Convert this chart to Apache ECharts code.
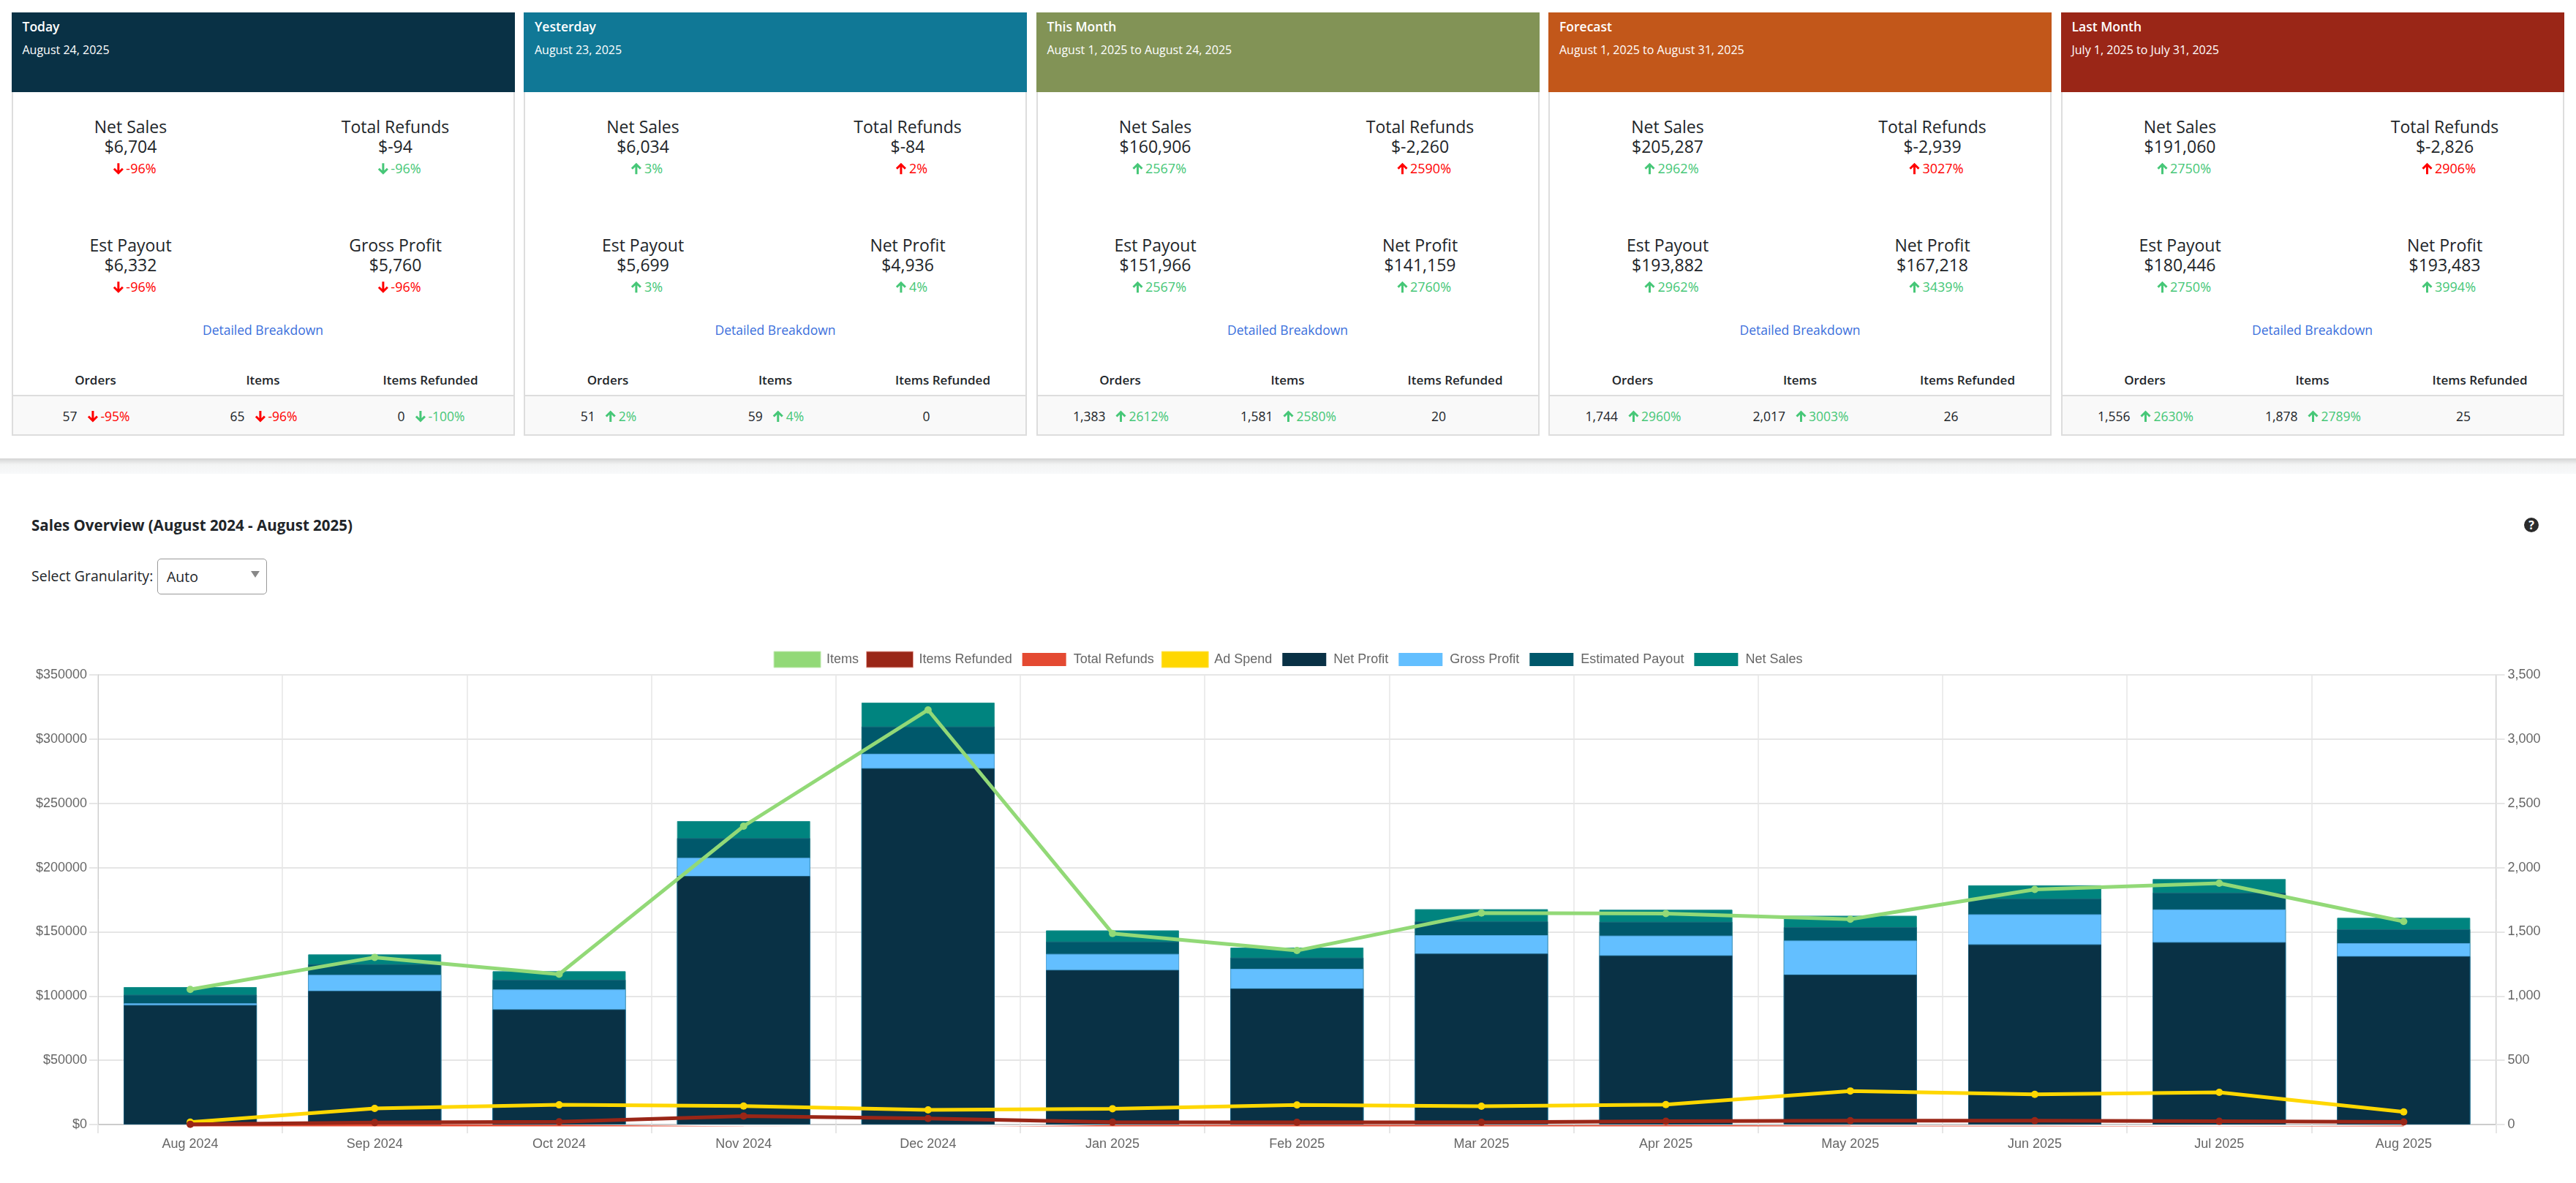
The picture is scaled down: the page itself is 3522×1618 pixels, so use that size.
<!DOCTYPE html>
<html>
<head>
<meta charset="utf-8">
<title>Sales Overview</title>
<script src="https://cdn.jsdelivr.net/npm/echarts@6/dist/echarts.min.js"></script>
<style>
html, body { margin: 0; padding: 0; background: #fff; }
body { width: 3522px; height: 1618px; position: relative; overflow: hidden; font-family: "Open Sans", "Noto Sans", sans-serif; color: #212529; }
.card { position: absolute; top: 17px; width: 688px; height: 579px; box-sizing: border-box; border: 2px solid #ddd; border-top: 0; }
.head { position: absolute; left: -2px; top: 0; width: 688px; height: 109px; color: #fff; }
.foot { position: absolute; left: -2px; right: -2px; top: 523px; bottom: -2px; background: #f9f9f9; border: 2px solid #ddd; box-sizing: border-box; }
.t { position: absolute; white-space: nowrap; transform: translate(-50%, -50%); }
.l { position: absolute; white-space: nowrap; transform: translateY(-50%); }
.strip { position: absolute; left: 0; top: 627px; width: 3522px; height: 21px; background: linear-gradient(#d4d4d4, #f3f4f4 40%, #f8f9fa); }
.sel { position: absolute; left: 215px; top: 764px; width: 150px; height: 49px; box-sizing: border-box; border: 1px solid #999; border-radius: 5px; }
.tri { position: absolute; left: 343px; top: 781px; width: 0; height: 0; border-left: 6px solid transparent; border-right: 6px solid transparent; border-top: 9px solid #888; }
.help { position: absolute; left: 3451px; top: 708px; width: 20px; height: 20px; border-radius: 10px; background: #2b2b2b; color: #fff; font: bold 16px/20px "Open Sans", sans-serif; text-align: center; }
.pct { display: inline-flex; align-items: center; }
svg { display: block; margin-right: 3px; }
#chart { position: absolute; left: 0; top: 850px; width: 3522px; height: 768px; }
</style>
</head>
<body>
<div id="cards"></div>
<div class="strip"></div>
<div class="l" style="left:43px;top:718px;font-size:20.5px;font-weight:700">Sales Overview (August 2024 - August 2025)</div>
<div class="l" style="left:43px;top:787px;font-size:19.5px">Select Granularity:</div>
<div class="sel"></div>
<div class="l" style="left:228px;top:788px;font-size:19.5px">Auto</div>
<div class="tri"></div>
<div class="help">?</div>
<div id="chart"></div>
<script>
// cards
var cardTitles = ['Today', 'Yesterday', 'This Month', 'Forecast', 'Last Month'];
var cardDates = ['August 24, 2025', 'August 23, 2025', 'August 1, 2025 to August 24, 2025', 'August 1, 2025 to August 31, 2025', 'July 1, 2025 to July 31, 2025'];
var headerColors = ['#093145', '#107896', '#829356', '#C2571A', '#9A2617'];
var netSalesText = ['$6,704', '$6,034', '$160,906', '$205,287', '$191,060'];
var netSalesPct = [-96, 3, 2567, 2962, 2750];
var refundsText = ['$-94', '$-84', '$-2,260', '$-2,939', '$-2,826'];
var refundsPct = [-96, 2, 2590, 3027, 2906];
var payoutText = ['$6,332', '$5,699', '$151,966', '$193,882', '$180,446'];
var payoutPct = [-96, 3, 2567, 2962, 2750];
var profitLabel = ['Gross Profit', 'Net Profit', 'Net Profit', 'Net Profit', 'Net Profit'];
var profitText = ['$5,760', '$4,936', '$141,159', '$167,218', '$193,483'];
var profitPct = [-96, 4, 2760, 3439, 3994];
var ordersText = ['57', '51', '1,383', '1,744', '1,556'];
var ordersPct = [-95, 2, 2612, 2960, 2630];
var itemsText = ['65', '59', '1,581', '2,017', '1,878'];
var itemsPct = [-96, 4, 2580, 3003, 2789];
var refundedText = ['0', '0', '20', '26', '25'];
var refundedPct = [-100, null, null, null, null];

// chart
var months = ['Aug 2024', 'Sep 2024', 'Oct 2024', 'Nov 2024', 'Dec 2024', 'Jan 2025', 'Feb 2025', 'Mar 2025', 'Apr 2025', 'May 2025', 'Jun 2025', 'Jul 2025', 'Aug 2025'];
var netSales = [107000, 132400, 119300, 236200, 328400, 151100, 137700, 167600, 167200, 162500, 186200, 191060, 160906];
var estPayout = [101000, 124800, 112700, 222900, 309800, 142400, 129900, 158100, 157800, 153600, 175800, 180446, 151966];
var grossProfit = [94300, 116500, 105100, 207600, 288600, 132800, 121200, 147400, 147000, 143200, 163600, 167400, 141159];
var netProfit = [93000, 104000, 89600, 193400, 277300, 120300, 105900, 133000, 131600, 116700, 140200, 141900, 131000];
var adSpend = [1900, 12500, 15300, 14400, 11400, 12300, 15200, 14200, 15500, 26100, 23500, 25000, 9800];
var totalRefunds = [-400, -1200, -1500, -2900, -3600, -1900, -1600, -1900, -1900, -2300, -2400, -2826, -2260];
var items = [1051, 1301, 1170, 2322, 3227, 1487, 1354, 1646, 1642, 1598, 1830, 1878, 1581];
var itemsRefunded = [2, 15, 21, 66, 47, 19, 17, 17, 25, 30, 30, 25, 20];

function arrow(up, color) {
    var d = up ? 'M8 16V2M2 8.5L8 2.5L14 8.5' : 'M8 1V15M2 8.5L8 14.5L14 8.5';
    return '<svg width="16" height="17" viewBox="0 0 16 17"><path d="' + d + '" fill="none" stroke="' + color + '" stroke-width="3"/></svg>';
}
function pctHtml(v, isRefund) {
    var good = isRefund ? v < 0 : v >= 0;
    var color = good ? '#46c777' : '#ff0000';
    return '<span class="pct" style="color:' + color + '">' + arrow(v >= 0, color) + v + '%</span>';
}
function metric(x, y, label, value, pct, isRefund) {
    return '<div class="t" style="left:' + x + 'px;top:' + (y - 17) + 'px;font-size:23px">' + label + '</div>' +
        '<div class="t" style="left:' + x + 'px;top:' + (y + 10) + 'px;font-size:23px">' + value + '</div>' +
        '<div class="t" style="left:' + (x + 5) + 'px;top:' + (y + 41) + 'px;font-size:18px">' + pctHtml(pct, isRefund) + '</div>';
}
function footCell(x, value, pct, isRefund) {
    var inner = '<span style="margin-right:13px">' + value + '</span>';
    if (pct === null) inner += '<span style="display:inline-block;width:34px"></span>';
    else inner += pctHtml(pct, isRefund);
    return '<div class="t" style="left:' + x + 'px;top:27px;font-size:17.5px;display:flex;align-items:center">' + inner + '</div>';
}

var html = '';
for (var i = 0; i < cardTitles.length; i++) {
    var left = 15.5 + i * 700.5;
    html += '<div class="card" style="left:' + left + 'px">';
    html += '<div class="head" style="background:' + headerColors[i] + '">' +
        '<div class="l" style="left:15px;top:19px;font-size:17.5px;font-weight:600">' + cardTitles[i] + '</div>' +
        '<div class="l" style="left:15px;top:51px;font-size:16px">' + cardDates[i] + '</div></div>';
    html += metric(161, 173, 'Net Sales', netSalesText[i], netSalesPct[i], false);
    html += metric(523, 173, 'Total Refunds', refundsText[i], refundsPct[i], true);
    html += metric(161, 335, 'Est Payout', payoutText[i], payoutPct[i], false);
    html += metric(523, 335, profitLabel[i], profitText[i], profitPct[i], false);
    html += '<div class="t" style="left:342px;top:434px;font-size:17.5px;color:#3b6fdc">Detailed Breakdown</div>';
    html += '<div class="t" style="left:113px;top:502px;font-size:17px;font-weight:600">Orders</div>';
    html += '<div class="t" style="left:342px;top:502px;font-size:17px;font-weight:600">Items</div>';
    html += '<div class="t" style="left:571px;top:502px;font-size:17px;font-weight:600">Items Refunded</div>';
    html += '<div class="foot">' + footCell(114, ordersText[i], ordersPct[i], false) + footCell(343, itemsText[i], itemsPct[i], false) + footCell(572, refundedText[i], refundedPct[i], true) + '</div>';
    html += '</div>';
}
document.getElementById('cards').innerHTML = html;

var gridColor = '#e6e6e6';
var labelColor = '#666';
var chartFont = '"Liberation Sans", Arial, sans-serif';

function barSeries(name, data, color, border, z) {
    return {
        name: name, type: 'bar', data: data, barWidth: 182, barGap: '-100%', z: z,
        itemStyle: { color: color, borderColor: border, borderWidth: 1 }
    };
}
function lineSeries(name, data, color, axis, z, clip) {
    return {
        name: name, type: 'line', data: data, yAxisIndex: axis, z: z, clip: clip,
        symbol: 'circle', symbolSize: 10, showAllSymbol: true,
        lineStyle: { color: color, width: 5 }, itemStyle: { color: color }
    };
}
function legendItem(name, color, isBar, border) {
    return { name: name, icon: 'rect', itemStyle: { color: color, borderColor: isBar ? '#fff' : border, borderWidth: isBar ? 4 : 1 } };
}

var myChart = echarts.init(document.getElementById('chart'), null, { renderer: 'canvas' });
var option = {
    animation: false,
    backgroundColor: '#fff',
    textStyle: { fontFamily: chartFont },
    legend: {
        top: 34, left: 'center', itemWidth: 64, itemHeight: 22, itemGap: 10,
        textStyle: { color: labelColor, fontSize: 18, fontFamily: chartFont, padding: [0, 0, 0, 3] },
        data: [
            legendItem('Items', '#92D977', false, '#c4eab5'),
            legendItem('Items Refunded', '#9A2617', false, '#e8a8a0'),
            legendItem('Total Refunds', '#E44A32', true),
            legendItem('Ad Spend', '#FFD700', false, '#ffe55c'),
            legendItem('Net Profit', '#093145', true),
            legendItem('Gross Profit', '#63BFFF', true),
            legendItem('Estimated Payout', '#00586B', true),
            legendItem('Net Sales', '#00847F', true)
        ]
    },
    grid: { left: 134, right: 109.5, top: 73, bottom: 80 },
    xAxis: {
        type: 'category', data: months,
        axisLine: { lineStyle: { color: '#ccc', width: 2 } },
        axisTick: { show: true, interval: 0, length: 12, lineStyle: { color: gridColor, width: 2 } },
        axisLabel: { interval: 0, color: labelColor, fontSize: 18, fontFamily: chartFont, margin: 18 },
        splitLine: { show: true, interval: 0, lineStyle: { color: gridColor, width: 1.5 } }
    },
    yAxis: [{
        type: 'value', min: 0, max: 350000, interval: 50000,
        axisLine: { show: true, lineStyle: { color: '#ccc', width: 1 } },
        axisTick: { show: true, length: 12, lineStyle: { color: gridColor, width: 2 } },
        axisLabel: { color: labelColor, fontSize: 18, fontFamily: chartFont, margin: 15, formatter: function (v) { return '$' + v; } },
        splitLine: { show: true, lineStyle: { color: gridColor, width: 2 } }
    }, {
        type: 'value', min: 0, max: 3500, interval: 500, position: 'right',
        axisLine: { show: true, lineStyle: { color: '#ccc', width: 1 } },
        axisTick: { show: true, length: 12, lineStyle: { color: gridColor, width: 2 } },
        axisLabel: { color: labelColor, fontSize: 18, fontFamily: chartFont, margin: 16, formatter: function (v) { return v.toLocaleString('en-US'); } },
        splitLine: { show: false }
    }],
    series: [
        barSeries('Net Sales', netSales, '#00847F', '#1f928e', 2),
        barSeries('Estimated Payout', estPayout, '#00586B', '#1c6b7c', 3),
        barSeries('Gross Profit', grossProfit, '#63BFFF', '#55a8e0', 4),
        barSeries('Net Profit', netProfit, '#093145', '#14506c', 5),
        lineSeries('Ad Spend', adSpend, '#FFD700', 0, 11, false),
        lineSeries('Total Refunds', totalRefunds, '#E44A32', 0, 12, true),
        lineSeries('Items Refunded', itemsRefunded, '#9A2617', 1, 13, false),
        lineSeries('Items', items, '#92D977', 1, 14, false)
    ]
};
myChart.setOption(option);
</script>
</body>
</html>
